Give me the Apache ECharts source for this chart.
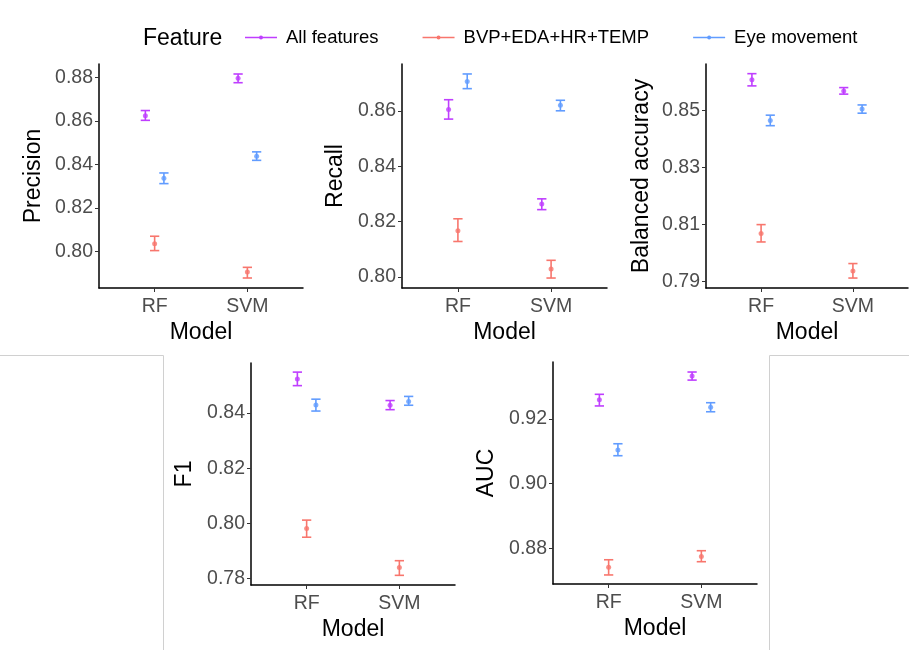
<!DOCTYPE html>
<html>
<head>
<meta charset="utf-8">
<script src="https://cdn.jsdelivr.net/npm/echarts@6/dist/echarts.min.js"></script>
<style>html,body{margin:0;padding:0;background:#fff}#c{width:909px;height:650px}</style>
</head>
<body>
<div id="c"></div>
<script>
// ---------- data ----------
const models = ['RF', 'SVM'];
const features = ['All features', 'BVP+EDA+HR+TEMP', 'Eye movement'];
const metrics = ['Precision', 'Recall', 'Balanced accuracy', 'F1', 'AUC'];

// each array: rows = features (All, BVP, Eye), columns = models (RF, SVM)
const precisionMean = [[0.8623, 0.8795], [0.8035, 0.7905], [0.8336, 0.8437]];
const precisionLow  = [[0.8602, 0.8775], [0.8003, 0.7877], [0.8311, 0.8418]];
const precisionHigh = [[0.8647, 0.8815], [0.8069, 0.7926], [0.8360, 0.8457]];

const recallMean = [[0.8605, 0.8263], [0.8167, 0.8029], [0.8706, 0.8620]];
const recallLow  = [[0.8570, 0.8243], [0.8128, 0.7996], [0.8680, 0.8600]];
const recallHigh = [[0.8640, 0.8282], [0.8210, 0.8060], [0.8733, 0.8638]];

const balaccMean = [[0.8609, 0.8569], [0.8068, 0.7936], [0.8465, 0.8506]];
const balaccLow  = [[0.8587, 0.8558], [0.8038, 0.7911], [0.8447, 0.8491]];
const balaccHigh = [[0.8630, 0.8581], [0.8099, 0.7962], [0.8484, 0.8520]];

const f1Mean = [[0.8523, 0.8428], [0.7982, 0.7840], [0.8429, 0.8442]];
const f1Low  = [[0.8499, 0.8412], [0.7950, 0.7812], [0.8407, 0.8428]];
const f1High = [[0.8548, 0.8445], [0.8012, 0.7865], [0.8450, 0.8460]];

const aucMean = [[0.9259, 0.9333], [0.8741, 0.8774], [0.9104, 0.9236]];
const aucLow  = [[0.9240, 0.9320], [0.8717, 0.8758], [0.9086, 0.9222]];
const aucHigh = [[0.9276, 0.9345], [0.8764, 0.8792], [0.9123, 0.9250]];

// y tick labels per panel
const precisionTicks = [0.80, 0.82, 0.84, 0.86, 0.88];
const recallTicks = [0.80, 0.82, 0.84, 0.86];
const balaccTicks = [0.79, 0.81, 0.83, 0.85];
const f1Ticks = [0.78, 0.80, 0.82, 0.84];
const aucTicks = [0.88, 0.90, 0.92];

// ---------- layout / style ----------
const colors = ['#BF3EFF', '#F8766D', '#619CFF'];
const dodge = [-0.1, 0, 0.1];
const FONT = 'Liberation Sans, Arial, sans-serif';

const panels = [
  {mean: precisionMean, low: precisionLow, high: precisionHigh, ticks: precisionTicks,
   grid: {left: 99, top: 64, width: 204, height: 224}, min: 0.7831, max: 0.8861, gap: 54},
  {mean: recallMean, low: recallLow, high: recallHigh, ticks: recallTicks,
   grid: {left: 402, top: 64, width: 205, height: 224}, min: 0.7960, max: 0.8769, gap: 55},
  {mean: balaccMean, low: balaccLow, high: balaccHigh, ticks: balaccTicks,
   grid: {left: 706, top: 64, width: 202, height: 224}, min: 0.7876, max: 0.8664, gap: 53},
  {mean: f1Mean, low: f1Low, high: f1High, ticks: f1Ticks,
   grid: {left: 251, top: 363, width: 204, height: 222}, min: 0.7777, max: 0.8581, gap: 55},
  {mean: aucMean, low: aucLow, high: aucHigh, ticks: aucTicks,
   grid: {left: 553, top: 362, width: 204, height: 222}, min: 0.8689, max: 0.9376, gap: 55}
];

const grids = [], xAxes = [], yAxes = [], series = [];
panels.forEach((p, i) => {
  grids.push(Object.assign({containLabel: false}, p.grid));
  xAxes.push({
    type: 'value', gridIndex: i, min: 0.4, max: 2.6,
    name: 'Model', nameLocation: 'middle', nameGap: 33,
    nameTextStyle: {fontFamily: FONT, fontSize: 23, color: '#000'},
    axisLine: {show: true, lineStyle: {color: '#000', width: 1.5}},
    axisTick: {show: true, length: 4, customValues: [1, 2], lineStyle: {color: '#333', width: 1}},
    axisLabel: {customValues: [1, 2], formatter: v => models[Math.round(v) - 1],
                margin: 9, fontFamily: FONT, fontSize: 19.5, color: '#4D4D4D'},
    splitLine: {show: false}
  });
  yAxes.push({
    type: 'value', gridIndex: i, min: p.min, max: p.max,
    name: metrics[i], nameLocation: 'middle', nameGap: p.gap, nameRotate: 90,
    nameTextStyle: {fontFamily: FONT, fontSize: 23, color: '#000'},
    axisLine: {show: true, lineStyle: {color: '#000', width: 1.5}},
    axisTick: {show: true, length: 4, customValues: p.ticks, lineStyle: {color: '#333', width: 1}},
    axisLabel: {customValues: p.ticks, formatter: v => v.toFixed(2),
                margin: 6, fontFamily: FONT, fontSize: 19.5, color: '#4D4D4D'},
    splitLine: {show: false}
  });
  features.forEach((f, k) => {
    const ebData = models.map((m, j) => [j + 1 + dodge[k], p.low[k][j], p.high[k][j]]);
    const ptData = models.map((m, j) => [j + 1 + dodge[k], p.mean[k][j]]);
    series.push({
      type: 'custom', name: f, xAxisIndex: i, yAxisIndex: i, z: 3,
      encode: {x: 0, y: [1, 2]},
      data: ebData,
      renderItem: (params, api) => {
        const x = api.value(0);
        const lo = api.coord([x, api.value(1)]);
        const hi = api.coord([x, api.value(2)]);
        const half = api.coord([x + 0.05, api.value(1)])[0] - lo[0];
        const st = {stroke: colors[k], lineWidth: 1.6};
        return {type: 'group', children: [
          {type: 'line', shape: {x1: lo[0], y1: lo[1], x2: hi[0], y2: hi[1]}, style: st},
          {type: 'line', shape: {x1: lo[0] - half, y1: lo[1], x2: lo[0] + half, y2: lo[1]}, style: st},
          {type: 'line', shape: {x1: hi[0] - half, y1: hi[1], x2: hi[0] + half, y2: hi[1]}, style: st}
        ]};
      }
    });
    series.push({
      type: 'scatter', name: f, xAxisIndex: i, yAxisIndex: i, z: 4,
      symbol: 'circle', symbolSize: 5,
      itemStyle: {color: colors[k]},
      data: ptData
    });
  });
});

const legendIcon = 'path://M0,4.2H32V5.8H0Z M16,3A2,2 0 1 1 16,7A2,2 0 1 1 16,3Z';

const option = {
  animation: false,
  color: colors,
  textStyle: {fontFamily: FONT},
  grid: grids, xAxis: xAxes, yAxis: yAxes, series: series,
  legend: {
    left: 240, top: 23, orient: 'horizontal',
    itemWidth: 32, itemHeight: 4, itemGap: 44,
    textStyle: {fontFamily: FONT, fontSize: 18.5, color: '#000', padding: [0, 0, 0, 4]},
    data: features.map((f, k) => ({name: f, icon: legendIcon, itemStyle: {color: colors[k]}})),
    selectedMode: false
  },
  graphic: [
    {type: 'text', left: 143, top: 27, style: {text: 'Feature', fontFamily: FONT, fontSize: 23, fill: '#000'}},
    {type: 'polyline', shape: {points: [[0, 355.5], [163.5, 355.5], [163.5, 650]]}, style: {stroke: '#d0d0d0', lineWidth: 1, fill: null}},
    {type: 'polyline', shape: {points: [[909, 355.5], [769.5, 355.5], [769.5, 650]]}, style: {stroke: '#d0d0d0', lineWidth: 1, fill: null}}
  ]
};

const chart = echarts.init(document.getElementById('c'), null, {renderer: 'canvas'});
chart.setOption(option);
</script>
</body>
</html>
